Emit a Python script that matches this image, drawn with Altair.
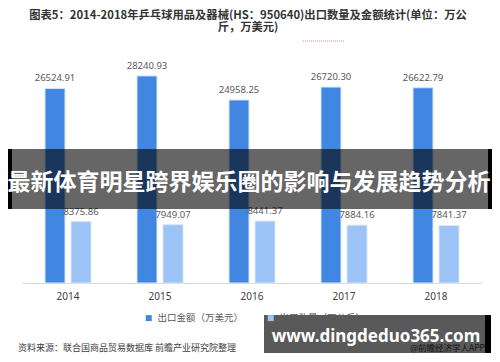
import altair as alt
import pandas as pd

years = ["2014", "2015", "2016", "2017", "2018"]
series_names = ["出口金额（万美元）", "出口数量（万公斤）"]
amount = [26524.91, 28240.93, 24958.25, 26720.30, 26622.79]
quantity = [8375.86, 7949.07, 8441.37, 7884.16, 7841.37]
label_amount = ["26524.91", "28240.93", "24958.25", "26720.30", "26622.79"]
label_quantity = ["8375.86", "7949.07", "8441.37", "7884.16", "7841.37"]
colors = ["#4187e2", "#9cc3f5"]

title_lines = ["图表5：2014-2018年乒乓球用品及器械(HS：950640)出口数量及金额统计(单位：万公",
               "斤，万美元)"]
banner_text = "最新体育明星跨界娱乐圈的影响与发展趋势分析"
site_text = "www.dingdeduo365.com"
source_text = "资料来源：联合国商品贸易数据库 前瞻产业研究院整理"
app_text = "@前瞻经济学人APP"

rows = []
for i, y in enumerate(years):
    rows.append({"year": y, "series": series_names[0], "value": amount[i], "label": label_amount[i]})
    rows.append({"year": y, "series": series_names[1], "value": quantity[i], "label": label_quantity[i]})
df = pd.DataFrame(rows)

CJK = "Noto Sans CJK SC"
LAT = "Noto Sans"

x_enc = alt.X("year:N", sort=years, title=None,
              scale=alt.Scale(paddingInner=0, paddingOuter=0),
              axis=alt.Axis(labelAngle=0, ticks=False, domainColor="#d9d9d9",
                            labelColor="#404040", labelFont=LAT, labelFontSize=10,
                            labelPadding=8, grid=False))
xoff = alt.XOffset("series:N", sort=series_names,
                   scale=alt.Scale(paddingInner=0.2308, paddingOuter=0.8846))
y_enc = alt.Y("value:Q", scale=alt.Scale(domain=[0, 30000], nice=False), axis=None)

base = alt.Chart(df)
bars = base.mark_bar(stroke="#d6e6fb", strokeWidth=1).encode(
    x=x_enc, xOffset=xoff, y=y_enc,
    color=alt.Color("series:N", sort=series_names,
                    scale=alt.Scale(domain=series_names, range=colors),
                    legend=alt.Legend(title=None, orient="none", direction="horizontal",
                                      legendX=122, legendY=250, symbolType="square",
                                      symbolSize=36, labelFont=CJK, labelFontSize=9.5,
                                      labelColor="#595959", columnPadding=22,
                                      symbolStrokeWidth=0)),
)
labels = base.mark_text(baseline="bottom", dy=-5, font=LAT, fontSize=9.5, color="#595959").encode(
    x=alt.X("year:N", sort=years), xOffset=xoff, y=y_enc, text="label:N")


def txt(t, x, y, **kw):
    return alt.Chart(pd.DataFrame({"t": [t]})).mark_text(**kw).encode(
        text="t", x=alt.value(x), y=alt.value(y))


def box(x1, x2, y1, y2, **kw):
    return alt.Chart(pd.DataFrame({"a": [0]})).mark_rect(**kw).encode(
        x=alt.value(x1), x2=alt.value(x2), y=alt.value(y1), y2=alt.value(y2))


title = txt(title_lines, 226, -53, baseline="top", lineHeight=12, font=CJK, fontSize=11.3,
            fontWeight="bold", color="#333333")
red = alt.Chart(pd.DataFrame({"a": [0]})).mark_rule(color="#f08080", strokeDash=[1, 1], strokeWidth=1).encode(
    x=alt.value(281), x2=alt.value(323), y=alt.value(-22))

banner = box(-14, 470, 86, 146, color="#000000", opacity=0.6)
bl = box(-14, -10, 86, 146, color="#000000")
br = box(466, 470, 86, 146, color="#000000")
bt = txt(banner_text, 227, 120, font=CJK, fontSize=23, fontWeight="bold", color="#ffffff")

src = txt(source_text, -4, 285, align="left", font=CJK, fontSize=9, color="#404040")
app = txt(app_text, 463, 285, align="right", font=CJK, fontSize=8.5, color="#404040")
site_box = box(242, 463, 252, 290, color="#000000", opacity=0.65)
site_strip = box(463, 469, 252, 290, color="#000000")
site = txt(site_text, 354, 274, font=LAT, fontSize=17, fontWeight="bold", color="#ffffff")

chart = alt.layer(bars, labels, title, red, banner, bl, br, bt, src, app, site_box, site_strip, site).properties(
    width=460, height=220,
    autosize=alt.AutoSizeParams(type="none"),
    padding={"left": 14, "right": 10, "top": 55, "bottom": 71},
    background="#ffffff",
).configure_view(stroke=None)

chart.save("out.html", embed_options={"renderer": "svg", "actions": False})
